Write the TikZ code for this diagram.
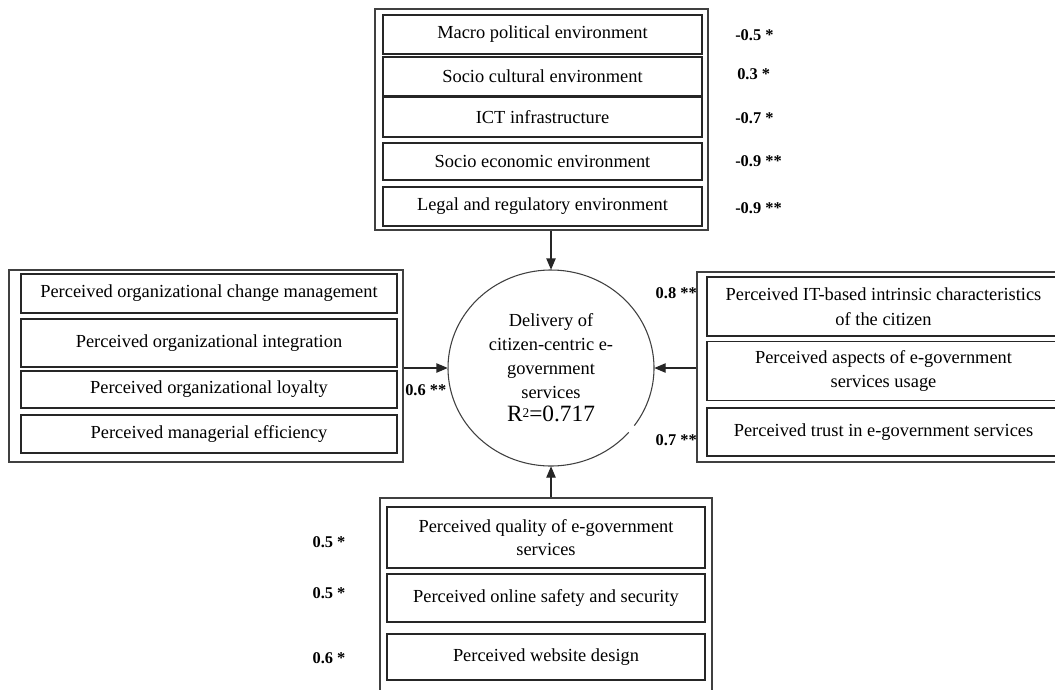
\documentclass[tikz,border=0pt]{standalone}
\usepackage{fontspec}
\setmainfont{Liberation Serif}
\usetikzlibrary{arrows.meta,shapes.geometric}
\begin{document}
\begin{tikzpicture}[x=0.75pt,y=-0.75pt,
  outer/.style={draw=black!75,line width=0.9pt,inner sep=0pt},
  ibox/.style={draw=black!85,line width=1.1pt,align=center,inner sep=1pt,
    font=\fontsize{13.8}{17.5}\selectfont},
  val/.style={font=\fontsize{12.3}{14}\selectfont\bfseries,inner sep=0pt},
  arr/.style={draw=black!85,line width=0.9pt,-{Triangle[length=8.5pt,width=7pt]}},
  circtext/.style={align=center,font=\fontsize{13.8}{18}\selectfont}]
\useasboundingbox[fill=white] (0,0) rectangle (1055,689);

% ---------- top group ----------
\node[outer,minimum width=333*0.75pt,minimum height=221*0.75pt] (top) at (541.5,119.5) {};
\node[ibox,minimum width=319*0.75pt,minimum height=39*0.75pt] (t1) at (542.5,34.5) {Macro political environment};
\node[ibox,minimum width=319*0.75pt,minimum height=39*0.75pt] (t2) at (542.5,76.5) {Socio cultural environment};
\node[ibox,minimum width=319*0.75pt,minimum height=40*0.75pt] (t3) at (542.5,117) {ICT infrastructure};
\node[ibox,minimum width=319*0.75pt,minimum height=37*0.75pt] (t4) at (542.5,161.5) {Socio economic environment};
\node[ibox,minimum width=319*0.75pt,minimum height=39*0.75pt] (t5) at (542.5,206.5) {Legal and regulatory environment};
\node[val,anchor=west] (v1) at (735,35) {-0.5 *};
\node[val,anchor=west] (v2) at (737,74) {0.3 *};
\node[val,anchor=west] (v3) at (735,118) {-0.7 *};
\node[val,anchor=west] (v4) at (735,161) {-0.9 **};
\node[val,anchor=west] (v5) at (735,208) {-0.9 **};

% ---------- left group ----------
\node[outer,minimum width=394*0.75pt,minimum height=192*0.75pt] (left) at (206,366) {};
\node[ibox,minimum width=376*0.75pt,minimum height=39*0.75pt] (l1) at (209,293.5) {Perceived organizational change management};
\node[ibox,minimum width=376*0.75pt,minimum height=48*0.75pt] (l2) at (209,343) {Perceived organizational integration};
\node[ibox,minimum width=376*0.75pt,minimum height=37*0.75pt] (l3) at (209,389.5) {Perceived organizational loyalty};
\node[ibox,minimum width=376*0.75pt,minimum height=38*0.75pt] (l4) at (209,434) {Perceived managerial efficiency};
\node[val,anchor=west] (v6) at (405,390) {0.6 **};

% ---------- right group ----------
\node[outer,minimum width=368*0.75pt,minimum height=190*0.75pt] (right) at (881,367) {};
\node[ibox,minimum width=353*0.75pt,minimum height=59*0.75pt] (r1) at (883.5,306.5) {Perceived IT-based intrinsic characteristics\\[1.5pt] of the citizen};
\node[ibox,minimum width=353*0.75pt,minimum height=59*0.75pt] (r2) at (883.5,371) {Perceived aspects of e-government\\ services usage};
\node[ibox,minimum width=353*0.75pt,minimum height=48*0.75pt] (r3) at (883.5,432) {Perceived trust in e-government services};
\node[val,anchor=east] (v7) at (697,293) {0.8 **};
\node[val,anchor=east] (v8) at (697,440) {0.7 **};

% ---------- bottom group ----------
\node[outer,minimum width=332*0.75pt,minimum height=210*0.75pt] (bot) at (546,603) {};
\node[ibox,minimum width=318*0.75pt,minimum height=61*0.75pt] (b1) at (546,537.5) {Perceived quality of e-government\\ services};
\node[ibox,minimum width=318*0.75pt,minimum height=48*0.75pt] (b2) at (546,598) {Perceived online safety and security};
\node[ibox,minimum width=318*0.75pt,minimum height=46*0.75pt] (b3) at (546,657) {Perceived website design};
\node[val] (v9) at (329,542) {0.5 *};
\node[val] (v10) at (329,593) {0.5 *};
\node[val] (v11) at (329,658) {0.6 *};

% ---------- central construct ----------
\node[ellipse,minimum width=206*0.75pt,minimum height=196*0.75pt,circtext] (c) at (551,368)
  {Delivery of\\ citizen-centric e-\\ government\\ services\\[-0.5pt] {\fontsize{17.5}{18}\selectfont R\raisebox{0.45ex}{\fontsize{10}{10}\selectfont 2}=0.717}};
\draw[black!75,line width=0.8pt] (c.center) ++(41:103 and 98) arc[start angle=41,end angle=396,x radius=103,y radius=98];

% ---------- arrows ----------
\draw[arr] (c.north |- top.south) -- (c.north);
\draw[arr] (left.east |- c.west) -- (c.west);
\draw[arr] (right.west |- c.east) -- (c.east);
\draw[arr] (c.south |- bot.north) -- (c.south);
\end{tikzpicture}
\end{document}
